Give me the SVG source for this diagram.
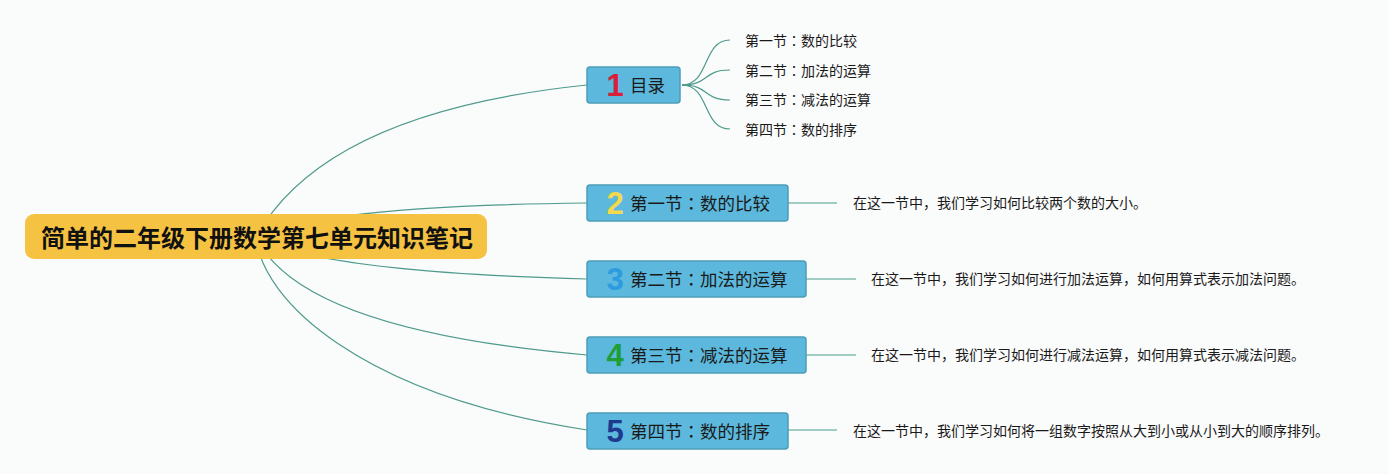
<svg xmlns="http://www.w3.org/2000/svg" width="1389" height="474" viewBox="0 0 1389 474">
<defs>
<style>
text { font-family: "Noto Sans CJK SC", "Noto Sans", sans-serif; fill: #1a1a1a; }
.c { font-family: "Noto Sans CJK JP", "Noto Sans CJK SC", sans-serif; }
.root-box { fill: #F5C242; }
.root-text { font-size: 24px; font-weight: bold; fill: #111; }
.box { fill: #5CB8DC; stroke: #4C9DB8; stroke-width: 1.5; }
.label { font-size: 17.5px; }
.num { font-family: "Liberation Sans", Arial, sans-serif; font-size: 31px; font-weight: bold; text-anchor: middle; }
.sub { font-size: 14px; }
.desc { font-size: 14px; }
.conn { fill: none; stroke: #4E9A8C; stroke-width: 1.2; }
.dline { fill: none; stroke: #9FCDC4; stroke-width: 2; }
</style>
</defs>
<rect width="1389" height="474" fill="#FAFBFB"/>

<g id="connectors">
<path class="conn" d="M256,237 Q325,112 587,85"/>
<path class="conn" d="M256,237 Q320,206 587,203"/>
<path class="conn" d="M256,237 Q320,272 587,279"/>
<path class="conn" d="M256,237 Q300,330 587,355"/>
<path class="conn" d="M256,237 C262,300 360,395 587,430"/>
<path class="conn" d="M682,85 C710,85 702,40 730,40"/>
<path class="conn" d="M682,85 C710,85 702,70 730,70"/>
<path class="conn" d="M682,85 C710,85 702,100 730,100"/>
<path class="conn" d="M682,85 C710,85 702,129 730,129"/>
<path class="dline" d="M788,203 H837"/>
<path class="dline" d="M806,279 H856"/>
<path class="dline" d="M806,355 H856"/>
<path class="dline" d="M788,430 H837"/>
</g>

<g id="root">
<rect class="root-box" x="25" y="214" width="462" height="45" rx="9"/>
<text class="root-text" x="41" y="247">简单的二年级下册数学第七单元知识笔记</text>
</g>

<g id="node1">
<rect class="box" x="587" y="67" width="93" height="36" rx="3"/>
<text class="num" x="615" y="96" style="fill:#D8203A">1</text>
<text class="label" x="630" y="91.5">目录</text>
</g>

<g id="sub1"><text class="sub" x="745" y="46">第一节<tspan class="c">：</tspan>数的比较</text></g>
<g id="sub2"><text class="sub" x="745" y="76">第二节<tspan class="c">：</tspan>加法的运算</text></g>
<g id="sub3"><text class="sub" x="745" y="105">第三节<tspan class="c">：</tspan>减法的运算</text></g>
<g id="sub4"><text class="sub" x="745" y="135">第四节<tspan class="c">：</tspan>数的排序</text></g>

<g id="node2">
<rect class="box" x="587" y="185" width="201" height="36" rx="3"/>
<text class="num" x="615" y="214" style="fill:#F4D94C">2</text>
<text class="label" x="630" y="209.5">第一节<tspan class="c">：</tspan>数的比较</text>
</g>
<g id="desc2"><text class="desc" x="853" y="208">在这一节中，我们学习如何比较两个数的大小。</text></g>

<g id="node3">
<rect class="box" x="587" y="261" width="219" height="36" rx="3"/>
<text class="num" x="615" y="290" style="fill:#2E9BE0">3</text>
<text class="label" x="630" y="285.5">第二节<tspan class="c">：</tspan>加法的运算</text>
</g>
<g id="desc3"><text class="desc" x="871" y="284">在这一节中，我们学习如何进行加法运算，如何用算式表示加法问题。</text></g>

<g id="node4">
<rect class="box" x="587" y="337" width="219" height="36" rx="3"/>
<text class="num" x="615" y="366" style="fill:#1F9E35">4</text>
<text class="label" x="630" y="361.5">第三节<tspan class="c">：</tspan>减法的运算</text>
</g>
<g id="desc4"><text class="desc" x="871" y="360">在这一节中，我们学习如何进行减法运算，如何用算式表示减法问题。</text></g>

<g id="node5">
<rect class="box" x="587" y="413" width="201" height="36" rx="3"/>
<text class="num" x="615" y="442" style="fill:#1E3A8E">5</text>
<text class="label" x="630" y="437.5">第四节<tspan class="c">：</tspan>数的排序</text>
</g>
<g id="desc5"><text class="desc" x="853" y="436">在这一节中，我们学习如何将一组数字按照从大到小或从小到大的顺序排列。</text></g>
</svg>
